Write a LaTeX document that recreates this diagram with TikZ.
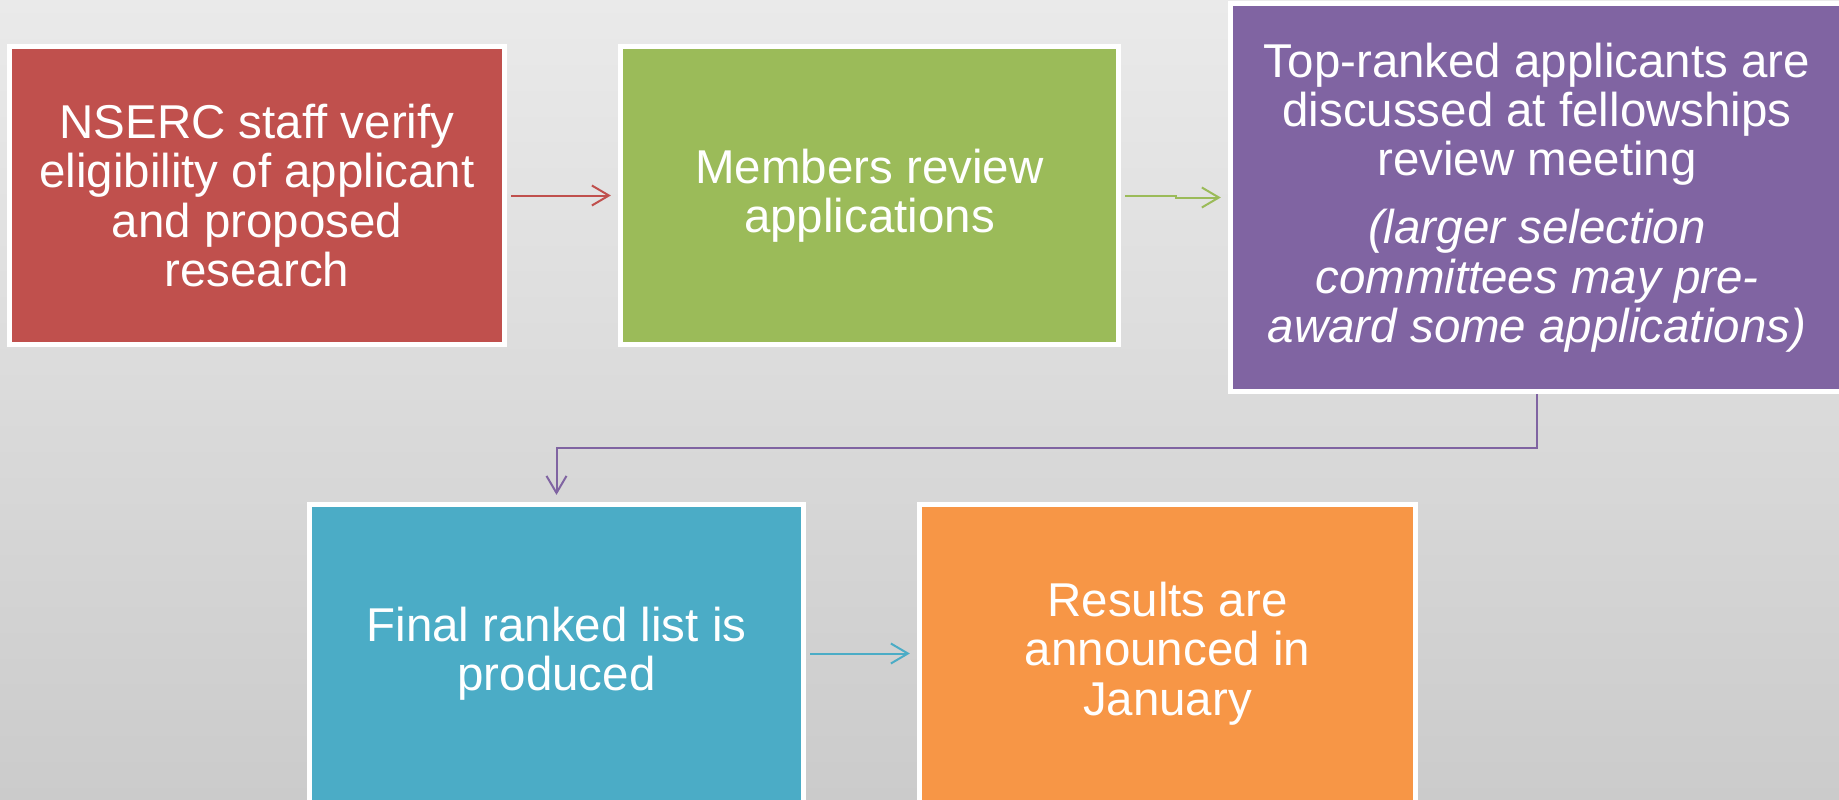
\documentclass[tikz,border=0pt]{standalone}
\usepackage{fontspec}
\setmainfont{Liberation Sans}
\usetikzlibrary{arrows.meta}

\definecolor{bgtop}{RGB}{234,234,234}
\definecolor{bgbot}{RGB}{203,203,203}
\definecolor{stepred}{RGB}{192,80,77}
\definecolor{stepgreen}{RGB}{155,187,89}
\definecolor{steppurple}{RGB}{128,100,162}
\definecolor{stepblue}{RGB}{75,172,198}
\definecolor{steporange}{RGB}{247,150,70}

\tikzset{
  stagebox/.style={draw=white, line width=0.05cm, inner sep=0pt, minimum width=4.95cm, minimum height=2.98cm,
    text=white, align=center, font=\fontsize{13.5pt}{14pt}\selectfont},
  flow/.style={line width=0.02cm, -{Straight Barb[length=0.17cm,width=0.2cm]}, shorten <=0.04cm, shorten >=0.07cm}
}

\begin{document}
\begin{tikzpicture}[x=0.01cm,y=-0.01cm]
  %background
  \fill[top color=bgtop,bottom color=bgbot] (0,0) rectangle (1839,800);
  \useasboundingbox (0,0) rectangle (1839,800);
  \clip (0,0) rectangle (1839,800);

  %top row
  \node[stagebox, fill=stepred] (verify) at (257,195.5) {NSERC staff verify\\eligibility of applicant\\and proposed\\research};
  \node[stagebox, fill=stepgreen, minimum width=4.98cm] (review) at (869.5,195.5) {Members review\\applications};
  \node[stagebox, fill=steppurple, minimum width=6.13cm, minimum height=3.88cm] (meeting) at (1537,197.5)
    {Top-ranked applicants are\\discussed at fellowships\\review meeting\\[0.19cm]
     \itshape (larger selection\\\itshape committees may pre-\\\itshape award some applications)};

  %bottom row
  \node[stagebox, fill=stepblue, minimum width=4.94cm] (ranked) at (556.5,653.5) {Final ranked list is\\produced};
  \node[stagebox, fill=steporange, minimum width=4.96cm] (results) at (1167.5,653.5) {Results are\\announced in\\January};

  \coordinate (bend) at (1537,448);

  \draw[flow, stepred] (verify) -- (review);
  \draw[flow, stepgreen] (review.east) -- ++(55,0) |- (meeting.west);
  \draw[flow, steppurple, shorten <=0pt] (meeting.south) -- (bend) -| (ranked.north);
  \draw[flow, stepblue] (ranked) -- (results);
\end{tikzpicture}
\end{document}
